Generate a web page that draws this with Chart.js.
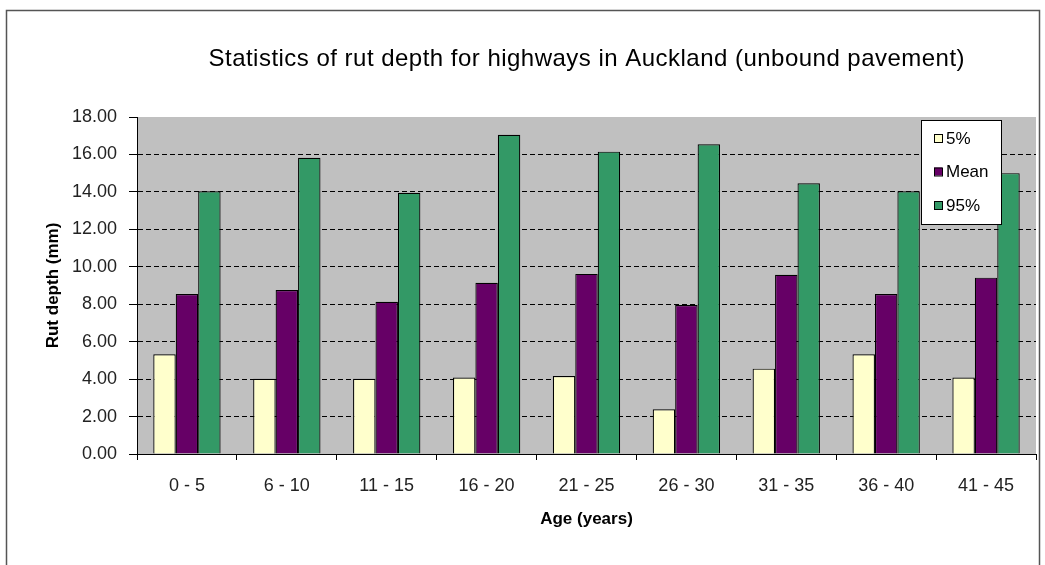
<!DOCTYPE html>
<html>
<head>
<meta charset="utf-8">
<title>Rut depth statistics</title>
<script src="https://cdn.jsdelivr.net/npm/chart.js@4"></script>
<style>
  body { margin: 0; background: #fff; }
  canvas { display: block; }
</style>
</head>
<body>
<canvas id="rutChart" width="1045" height="565"></canvas>
<script>
// values
const ageGroups = ['0 - 5', '6 - 10', '11 - 15', '16 - 20', '21 - 25', '26 - 30', '31 - 35', '36 - 40', '41 - 45'];
const p5Values = [5.33, 4.02, 4.02, 4.09, 4.16, 2.39, 4.56, 5.33, 4.08];
const meanValues = [8.55, 8.76, 8.13, 9.15, 9.62, 7.96, 9.57, 8.55, 9.42];
const p95Values = [14.03, 15.82, 13.95, 17.05, 16.15, 16.54, 14.46, 14.03, 15.0];
const chartTitle = 'Statistics of rut depth for highways in Auckland (unbound pavement)';

const FONT = "'Liberation Sans', Arial, sans-serif";

// grey plot area + outer frame
const plotBackground = {
    id: 'plotBackground',
    beforeDraw(chart) {
        const ctx = chart.ctx;
        const a = chart.chartArea;
        ctx.save();
        ctx.fillStyle = '#fff';
        ctx.fillRect(0, 0, chart.width, chart.height);
        ctx.strokeStyle = '#555';
        ctx.lineWidth = 1.5;
        ctx.strokeRect(6.5, 10.5, 1033, 570);
        ctx.fillStyle = '#c0c0c0';
        ctx.fillRect(a.left, a.top, a.right - a.left, a.bottom - a.top);
        ctx.restore();
    }
};

// title centred over the plot area, and the boxed legend inside it
const titleAndLegend = {
    id: 'titleAndLegend',
    afterDraw(chart) {
        const ctx = chart.ctx;
        const a = chart.chartArea;
        ctx.save();
        ctx.fillStyle = '#000';
        ctx.font = '24px ' + FONT;
        ctx.textAlign = 'left';
        ctx.textBaseline = 'middle';
        // stretch the title to the ~756px it takes in the original
        const w = ctx.measureText(chartTitle).width;
        const spacing = Math.max(0, (756 - w) / (chartTitle.length - 1));
        ctx.letterSpacing = spacing.toFixed(2) + 'px';
        ctx.fillText(chartTitle, (a.left + a.right) / 2 - 378, 59);
        ctx.letterSpacing = '0px';

        // legend box
        const bx = 921, by = 120, bw = 80, bh = 104;
        ctx.fillStyle = '#fff';
        ctx.fillRect(bx, by, bw, bh);
        ctx.strokeStyle = '#000';
        ctx.lineWidth = 1;
        ctx.strokeRect(bx + 0.5, by + 0.5, bw, bh);
        ctx.font = '17px ' + FONT;
        chart.data.datasets.forEach((ds, i) => {
            const cy = 138 + i * 33.5;
            ctx.fillStyle = ds.backgroundColor;
            ctx.fillRect(934, cy - 4, 8, 8);
            ctx.strokeStyle = '#000';
            ctx.strokeRect(934.5, cy - 3.5, 8, 8);
            ctx.fillStyle = '#000';
            ctx.fillText(ds.label, 946, cy + 1);
        });
        ctx.restore();
    }
};

const ctx = document.getElementById('rutChart').getContext('2d');
new Chart(ctx, {
    type: 'bar',
    data: {
        labels: ageGroups,
        datasets: [{
            label: '5%',
            data: p5Values,
            backgroundColor: '#ffffcc',
            borderColor: '#000',
            borderWidth: 1.2
        }, {
            label: 'Mean',
            data: meanValues,
            backgroundColor: '#660066',
            borderColor: '#000',
            borderWidth: 1.2
        }, {
            label: '95%',
            data: p95Values,
            backgroundColor: '#339966',
            borderColor: '#000',
            borderWidth: 1.2
        }]
    },
    options: {
        responsive: false,
        animation: false,
        layout: { padding: { left: 39, top: 117, right: 9, bottom: 31 } },
        datasets: {
            bar: { categoryPercentage: 0.674, barPercentage: 1.0 }
        },
        plugins: {
            legend: { display: false },
            title: { display: false },
            tooltip: { enabled: false }
        },
        scales: {
            x: {
                afterFit: scale => { scale.height = 80; },
                grid: {
                    drawOnChartArea: false,
                    drawTicks: true,
                    tickLength: 6,
                    tickColor: '#000',
                    offset: true
                },
                border: { display: true, color: '#000', width: 1 },
                ticks: {
                    color: '#222',
                    padding: 15,
                    font: { family: FONT, size: 18 }
                },
                title: {
                    display: true,
                    text: 'Age (years)',
                    color: '#000',
                    font: { family: FONT, size: 17, weight: 'bold' }
                }
            },
            y: {
                min: 0,
                max: 18,
                afterFit: scale => { scale.width = 98; },
                grid: {
                    color: c => (c.tick && (c.tick.value === 0 || c.tick.value === 18)) ? 'rgba(0,0,0,0)' : '#000',
                    lineWidth: 1,
                    tickLength: 8,
                    tickColor: '#000',
                    tickBorderDash: []
                },
                border: { display: true, color: '#000', width: 1, dash: [5, 3] },
                ticks: {
                    stepSize: 2,
                    color: '#222',
                    padding: 12,
                    font: { family: FONT, size: 18 },
                    callback: v => Number(v).toFixed(2)
                },
                title: {
                    display: true,
                    text: 'Rut depth (mm)',
                    color: '#000',
                    font: { family: FONT, size: 17, weight: 'bold' }
                }
            }
        }
    },
    plugins: [plotBackground, titleAndLegend]
});
</script>
</body>
</html>
